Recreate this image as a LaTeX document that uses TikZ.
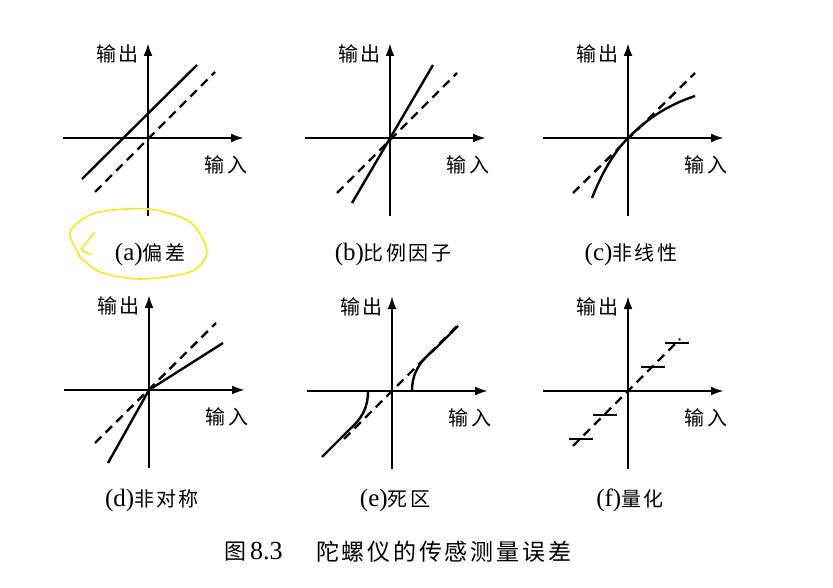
\documentclass[tikz,border=0pt]{standalone}
\usepackage{fontspec}
\usepackage{tikz}
\usetikzlibrary{arrows.meta, calc}
\setmainfont{Liberation Serif}
\newfontfamily\cjk[LetterSpace=12]{Noto Sans CJK SC}
\definecolor{markeryellow}{RGB}{242, 232, 40}

\newcommand{\zh}{\cjk\fontsize{20}{24}\selectfont}
\newcommand{\drawaxes}[1]{%
    \draw[axisline] (-85,0) -- (96,0);
    \draw[axisline] (0,-78) -- (0,95);
    \node[lbl, anchor=east] (#1-out) at (-9,84) {输出};
    \node[lbl] (#1-in) at (78,-27) {输入};
}

\tikzset{
    axisline/.style={line width=2.4pt, -{Latex[length=13pt, width=9pt]}},
    curve/.style={line width=2.4pt},
    ideal/.style={line width=2.4pt, dash pattern=on 9pt off 6pt},
    lbl/.style={font=\zh, inner sep=0pt},
    subcap/.style={font=\fontsize{25}{28}\selectfont, inner sep=0pt},
}

\begin{document}
\begin{tikzpicture}[x=1pt, y=-1pt]
    \useasboundingbox (0,0) rectangle (833,588);

    % (a) bias
    \begin{scope}[shift={(148,138)}, yscale=-1]
        \drawaxes{a}
        \draw[curve] (-66,-41) -- (49,73);
        \draw[ideal] (-53,-54) -- (67,66);
        \node[subcap] (a-cap) at (2,-116) {(a){\zh 偏差}};
    \end{scope}

    % (b) scale factor
    \begin{scope}[shift={(390,138)}, yscale=-1]
        \drawaxes{b}
        \draw[curve] (-38,-65) -- (43,73);
        \draw[ideal] (-53,-55) -- (67,65);
        \node[subcap] (b-cap) at (3,-116) {(b){\zh 比例因子}};
    \end{scope}

    % (c) nonlinearity
    \begin{scope}[shift={(628,138)}, yscale=-1]
        \drawaxes{c}
        \draw[curve] (-36,-60) .. controls (-25,-32) and (-12,-12) .. (0,0)
            .. controls (20,20) and (40,33) .. (67,42);
        \draw[ideal] (-55,-55) -- (67,65);
        \node[subcap] (c-cap) at (3,-116) {(c){\zh 非线性}};
    \end{scope}

    % (d) asymmetry
    \begin{scope}[shift={(149,390)}, yscale=-1]
        \drawaxes{d}
        \draw[curve] (-41,-73) -- (0,0) -- (74,47);
        \draw[ideal] (-54,-53) -- (67,67);
        \node[subcap] (d-cap) at (3,-110) {(d){\zh 非对称}};
    \end{scope}

    % (e) dead zone
    \begin{scope}[shift={(392,391)}, yscale=-1]
        \drawaxes{e}
        \draw[curve] (20,0) .. controls (20,18) and (28,30) .. (42,41) -- (66,65);
        \draw[curve] (-24,0) .. controls (-24,-18) and (-31,-28) .. (-42,-38) -- (-70,-66);
        \draw[ideal] (-48,-48) -- (65,65);
        \node[subcap] (e-cap) at (3,-109) {(e){\zh 死区}};
    \end{scope}

    % (f) quantization
    \begin{scope}[shift={(628,391)}, yscale=-1]
        \drawaxes{f}
        \foreach \k in {-2,-1,1,2}
            \draw[curve] (24*\k-11, 24*\k) -- (24*\k+13, 24*\k);
        \draw[ideal] (-55,-55) -- (52,52);
        \node[subcap] (f-cap) at (2,-109) {(f){\zh 量化}};
    \end{scope}

    \node[font=\fontsize{26}{30}\selectfont, inner sep=0pt, anchor=west] (fig-num)
        at (224,552) {{\cjk\fontsize{22}{26}\selectfont 图}\hspace{4pt}8.3};
    \node[font=\cjk\fontsize{23}{27}\selectfont, inner sep=0pt, anchor=west] (fig-title)
        at (316,552) {陀螺仪的传感测量误差};

    % marker loop round (a)
    \draw[markeryellow, line width=1.6pt] plot[smooth] coordinates {(80,256) (70,232) (95,213)
        (148,209) (190,222) (207,252) (190,272) (140,279) (100,272) (78,255)};
    \draw[markeryellow, line width=1.6pt] plot[smooth] coordinates {(95,232) (86,243) (82,250) (92,255)};
\end{tikzpicture}
\end{document}
